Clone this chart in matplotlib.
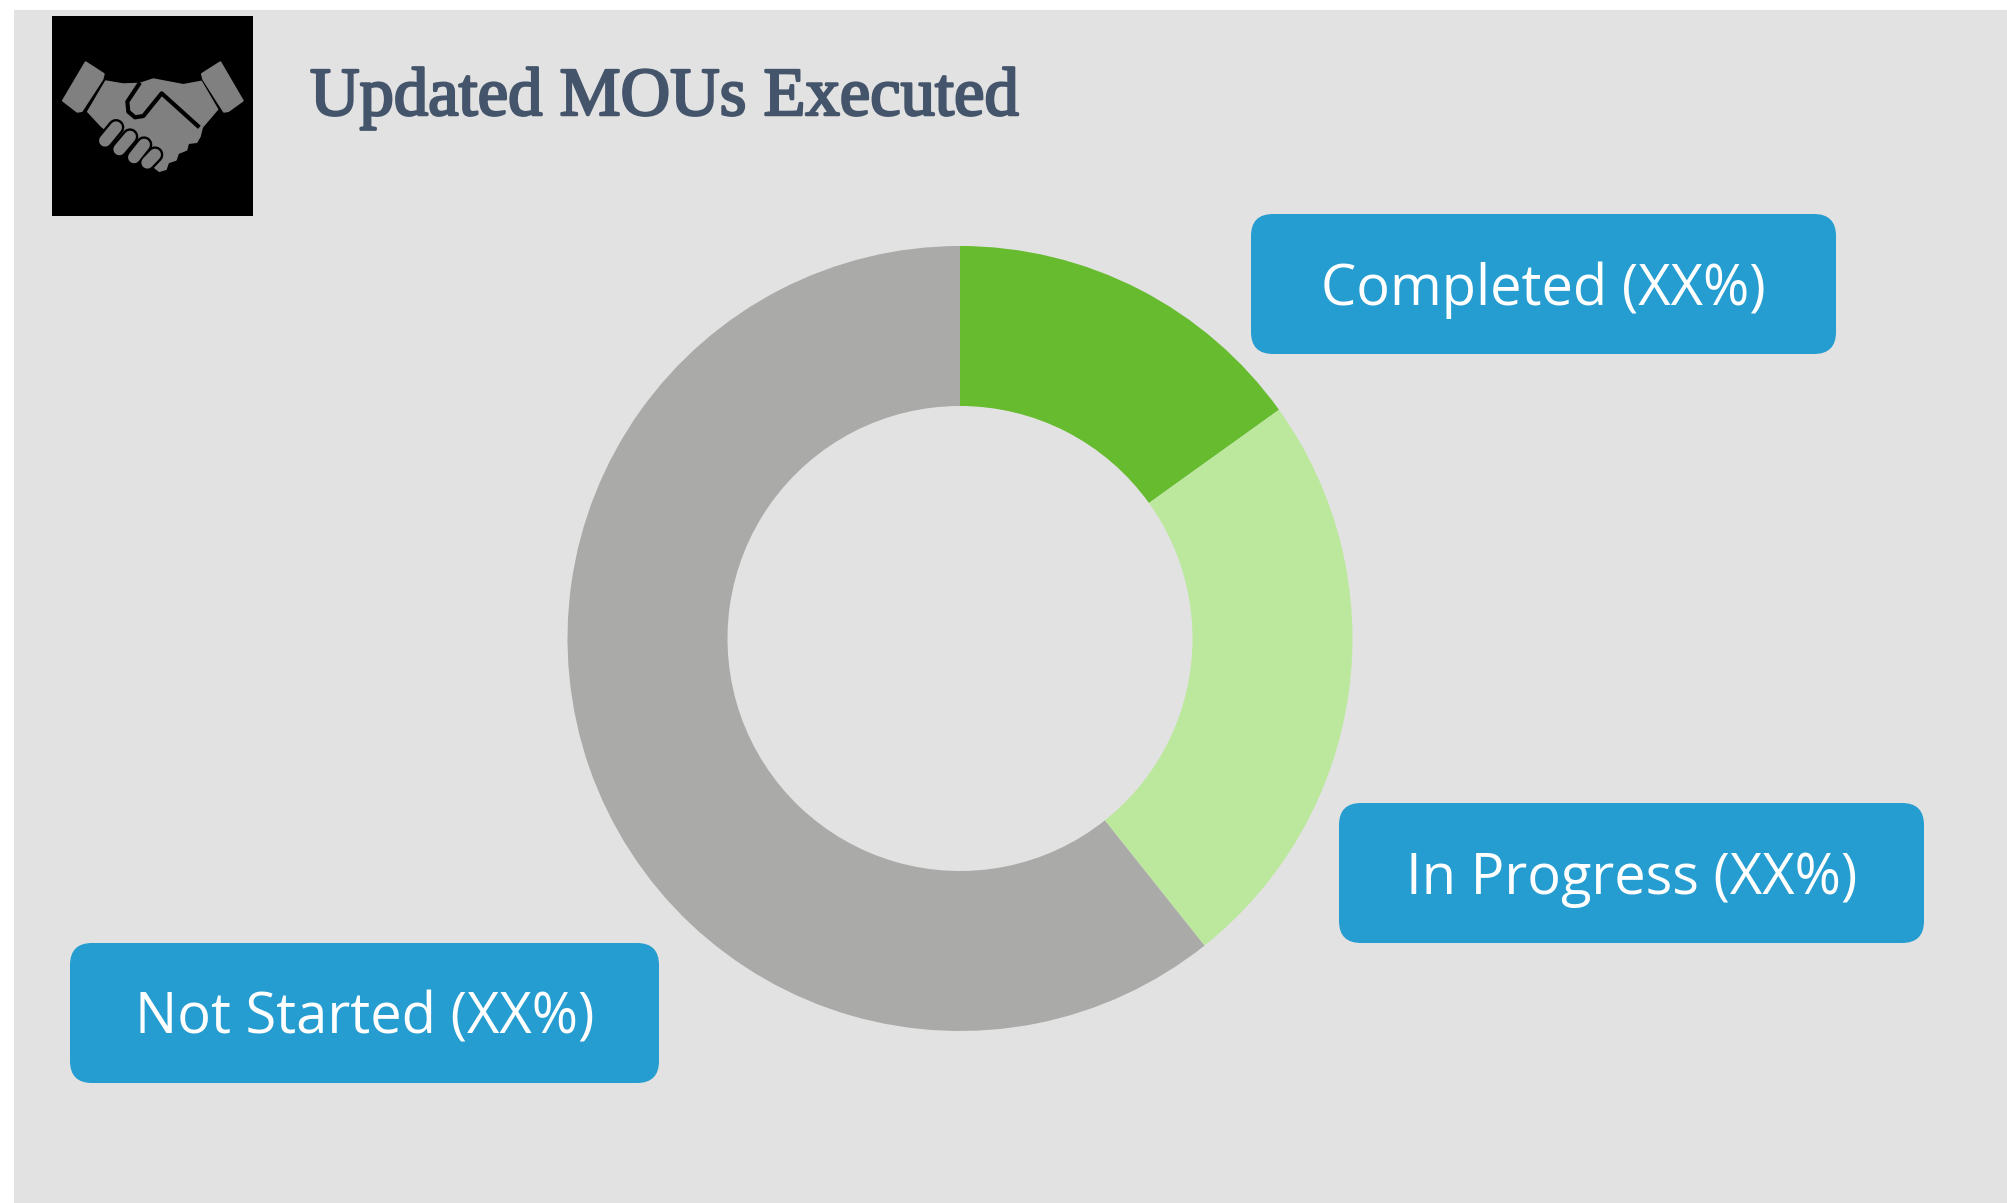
import matplotlib
matplotlib.use('Agg')
import matplotlib.pyplot as plt
import matplotlib.patheffects as pe
from matplotlib.patches import FancyBboxPatch, Polygon, Rectangle

W = 2008
H = 1203

categories = ['Completed', 'In Progress', 'Not Started']
shares = [15.1, 24.2, 60.7]
slice_colors = ['#66BB2E', '#BCE89D', '#AAAAA8']
box_labels = ['Completed (XX%)', 'In Progress (XX%)', 'Not Started (XX%)']
title = 'Updated MOUs Executed'

# box left, top, right, bottom in image pixels
boxes = [(1251, 214, 1836, 354), (1339, 803, 1924, 943), (70, 943, 659, 1083)]

cuff_left = [(137, 157), (191, 192), (187, 208), (125, 303), (112, 305), (69, 272)]
cuff_right = [(541, 157), (608, 272), (565, 303), (552, 305), (490, 208), (486, 192)]
hands = [(197, 213), (250, 222), (300, 220), (340, 207), (430, 224), (484, 214), (533, 298),
         (487, 352), (480, 380), (470, 397), (445, 400), (440, 420), (415, 430), (408, 450),
         (385, 458), (378, 478), (358, 484), (340, 470), (300, 440), (185, 350), (143, 305)]
thumb_line = [(300, 218), (262, 275), (265, 305), (285, 322), (310, 318), (365, 250), (478, 352)]
fingers = [((195, 392), (228, 352)), ((238, 418), (270, 380)),
           ((282, 442), (312, 404)), ((322, 458), (345, 434))]


def px(x, y):
    return x, H - y


def icon(pts):
    return [px(40 + x / 3, 10 + y / 3) for x, y in pts]


fig = plt.figure(figsize=(W / 100, H / 100), dpi=100, facecolor='white')
ax = fig.add_axes([0, 0, 1, 1])

wedges, _ = ax.pie(shares, colors=slice_colors, startangle=90, counterclock=False,
                   center=px(960, 638.5), radius=392.5,
                   wedgeprops=dict(width=160, linewidth=0))
ax.set_xlim(0, W)
ax.set_ylim(0, H)
ax.axis('off')

# panel behind everything
ax.add_patch(Rectangle(px(14, 1203), W - 14, H - 10, fc='#E2E2E2', ec='none', zorder=-5))

# donut is cut off flat at the bottom
clip = Rectangle(px(0, 1029), W, 1029, transform=ax.transData)
for w in wedges:
    w.set_clip_path(clip)

ax.add_patch(Rectangle(px(52, 216), 201, 200, fc='black', ec='none', zorder=2))
ax.add_patch(Polygon(icon(cuff_left), fc='#808080', ec='#808080', lw=1.5, joinstyle='round', zorder=3))
ax.add_patch(Polygon(icon(cuff_right), fc='#808080', ec='#808080', lw=1.5, joinstyle='round', zorder=3))
ax.add_patch(Polygon(icon(hands), fc='#808080', ec='#808080', lw=1, joinstyle='round', zorder=3))
xs, ys = zip(*icon(thumb_line))
ax.plot(xs, ys, color='black', lw=3, solid_joinstyle='round', solid_capstyle='butt', zorder=4)
for a, b in fingers:
    xs, ys = zip(*icon([a, b]))
    ax.plot(xs, ys, color='black', lw=12, solid_capstyle='round', zorder=4)
    ax.plot(xs, ys, color='#808080', lw=8.6, solid_capstyle='round', zorder=5)

tx, ty = px(310, 115)
ax.text(tx, ty, title, fontsize=49.4, color='#44546A', family='Liberation Serif',
        ha='left', va='baseline',
        path_effects=[pe.withStroke(linewidth=1.8, foreground='#44546A')])

for label, (l, t, r, b) in zip(box_labels, boxes):
    rad = 22
    ax.add_patch(FancyBboxPatch((l + rad, H - b + rad), r - l - 2 * rad, b - t - 2 * rad,
                                boxstyle='round,pad=%d,rounding_size=%d' % (rad, rad),
                                fc='#259DD0', ec='none', zorder=3))
    cx, cy = px((l + r) / 2, (t + b) / 2 + 21)
    ax.text(cx, cy, label, fontsize=40.3, color='white', family='Open Sans',
            ha='center', va='baseline', zorder=4)

fig.savefig('out.png', dpi=100, facecolor='white')
